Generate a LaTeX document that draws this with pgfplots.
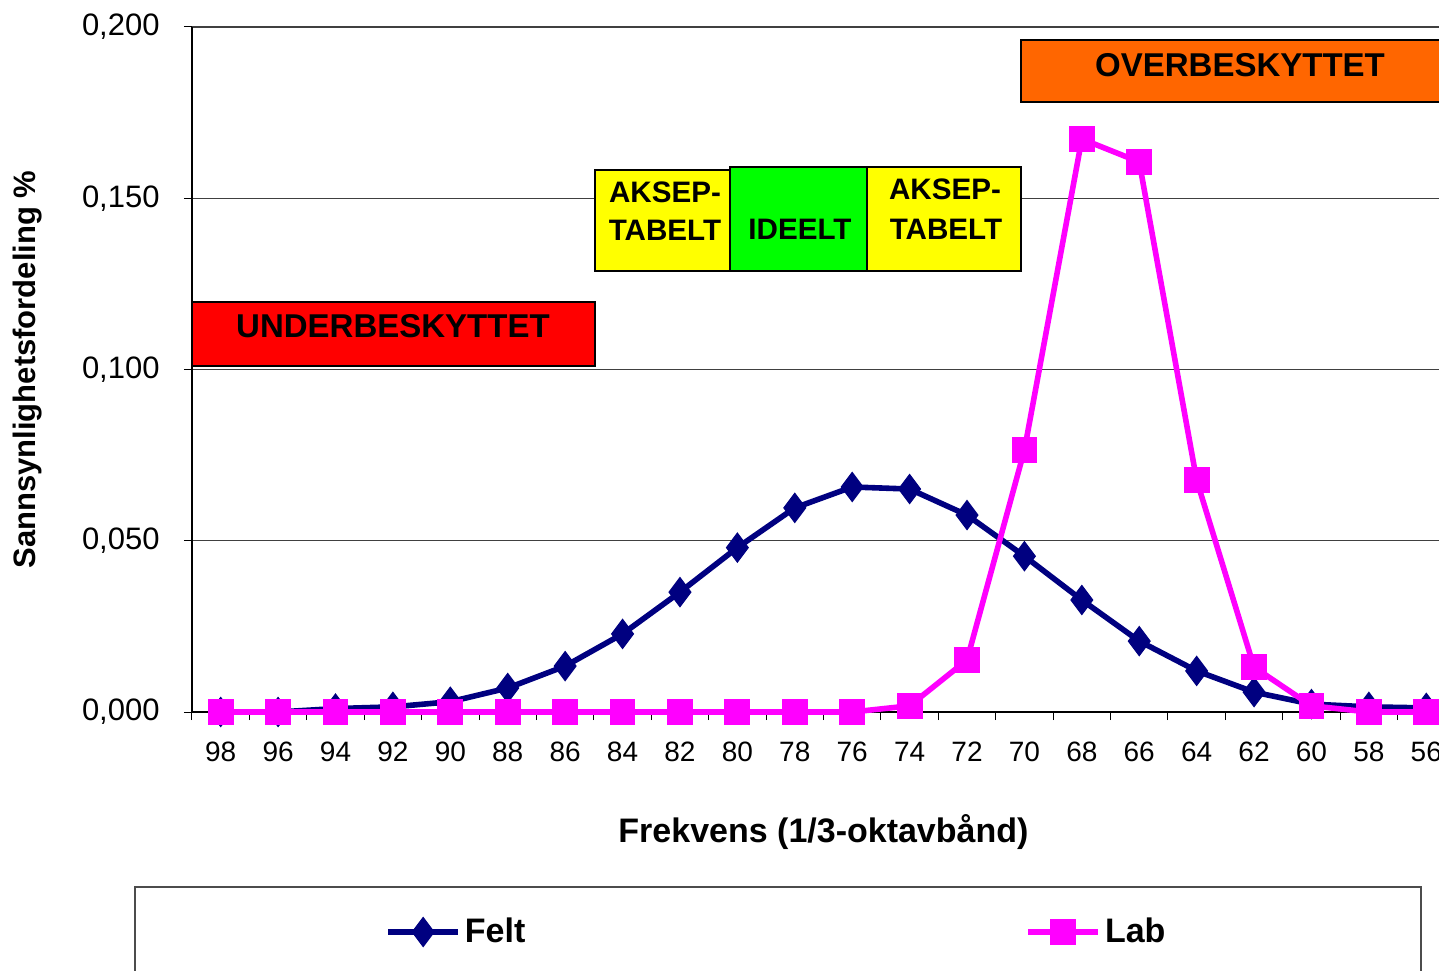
\documentclass[border=0pt]{standalone}
\usepackage{pgfplots}
\pgfplotsset{compat=1.18}
\usepackage{fontspec}
\setmainfont{Liberation Sans}
\definecolor{feltc}{RGB}{0,0,128}
\definecolor{labc}{RGB}{255,0,255}
\definecolor{overc}{RGB}{255,102,0}
\definecolor{idealc}{RGB}{0,255,0}
\definecolor{accc}{RGB}{255,255,0}
\newcommand{\PX}[2]{({(#1-192)*0.5pt},{(712-#2)*0.5pt})}
\begin{document}
\begin{tikzpicture}
\begin{axis}[
  at={(0,0)}, anchor=south west,
  scale only axis, width=631.5pt, height=342.5pt,
  x dir=reverse, xmin=55, xmax=99,
  ymin=0, ymax=0.2,
  axis x line=bottom, axis y line=left,
  axis line style={line width=0.6pt, -},
  xtick={56,58,...,98}, minor xtick={55,57,...,99},
  major x tick style={draw=none},
  minor x tick style={line width=0.5pt, black},
  ytick={0,0.05,0.1,0.15,0.2},
  tick align=outside,
  major tick length=4pt, minor tick length=4pt,
  y tick style={line width=0.5pt, black},
  ymajorgrids, grid style={line width=0.6pt, black!75},
  /pgf/number format/assume math mode=true,
  yticklabel style={/pgf/number format/.cd, fixed, fixed zerofill, precision=3, use comma, /tikz/.cd, font=\fontsize{15.5}{18}\selectfont, inner sep=0pt, xshift=-12pt},
  xticklabel style={font=\fontsize{14}{17}\selectfont, inner sep=0pt, yshift=-11pt},
  xlabel={\textbf{Frekvens (1/3-oktavbånd)}},
  ylabel={\textbf{Sannsynlighetsfordeling \%}},
  xlabel style={at={(axis description cs:0.5,-0.1752)}, anchor=center, font=\fontsize{17}{20}\selectfont},
  ylabel style={at={(axis description cs:-0.1299,0.5)}, anchor=center, font=\fontsize{15.5}{18}\selectfont},
  clip=false,
  legend columns=2,
  legend style={at={(0.1528,-0.3212)}, anchor=west, draw=none, fill=none, inner sep=0pt,
    font=\fontsize{17}{20}\selectfont\bfseries,
    nodes={inner xsep=2pt, inner ysep=0pt},
    /tikz/every even column/.append style={column sep=248pt}},
  legend image code/.code={\draw[mark repeat=2,mark phase=2,#1] plot coordinates {(0pt,0pt) (17.5pt,0pt) (35pt,0pt)};},
]
\addplot[feltc, line width=2.8pt, mark=diamond*, mark size=7.3pt, mark options={solid, line width=0.5pt}] coordinates {
(98,0.0000) (96,0.0000) (94,0.0010) (92,0.0015) (90,0.0030) (88,0.0070) (86,0.0134)
(84,0.0228) (82,0.0350) (80,0.0480) (78,0.0596) (76,0.0657) (74,0.0651) (72,0.0575)
(70,0.0455) (68,0.0327) (66,0.0207) (64,0.0120) (62,0.0058) (60,0.0023) (58,0.0015) (56,0.0012)
};
\addlegendentry{Felt}
\addplot[labc, line width=2.8pt, mark=square*, mark size=6.2pt, mark options={solid, line width=0.5pt}] coordinates {
(98,0) (96,0) (94,0) (92,0) (90,0) (88,0) (86,0) (84,0) (82,0) (80,0) (78,0) (76,0)
(74,0.0018) (72,0.0152) (70,0.0765) (68,0.1673) (66,0.1606) (64,0.0677) (62,0.0131)
(60,0.0018) (58,0) (56,0)
};
\addlegendentry{Lab}
\end{axis}
% annotation boxes
\tikzset{zone/.style={draw=black, line width=1pt},
  ztext/.style={font=\fontsize{16.5}{19}\selectfont\bfseries, inner sep=0pt},
  stext/.style={font=\fontsize{14.8}{17}\selectfont\bfseries, inner sep=0pt}}
\filldraw[zone, fill=red] \PX{192}{302} rectangle \PX{595}{366};
\node[ztext] at \PX{393}{326} {UNDERBESKYTTET};
\filldraw[zone, fill=accc] \PX{595}{170} rectangle \PX{730}{271};
\node[stext] at \PX{665}{192} {AKSEP-};
\node[stext] at \PX{665}{230} {TABELT};
\filldraw[zone, fill=idealc] \PX{730}{167} rectangle \PX{867}{271};
\node[stext] at \PX{800}{229} {IDEELT};
\filldraw[zone, fill=accc] \PX{867}{167} rectangle \PX{1021}{271};
\node[stext] at \PX{945}{189} {AKSEP-};
\node[stext] at \PX{946}{229} {TABELT};
\filldraw[zone, fill=overc] \PX{1021}{40} rectangle \PX{1470}{102};
\node[ztext] at \PX{1240}{65} {OVERBESKYTTET};
% legend frame
\draw[line width=0.8pt, black!70] \PX{135}{1000} -- \PX{135}{887} -- \PX{1421}{887} -- \PX{1421}{1000};
\pgfresetboundingbox
\useasboundingbox \PX{0}{0} rectangle \PX{1439}{970};
\end{tikzpicture}
\end{document}
